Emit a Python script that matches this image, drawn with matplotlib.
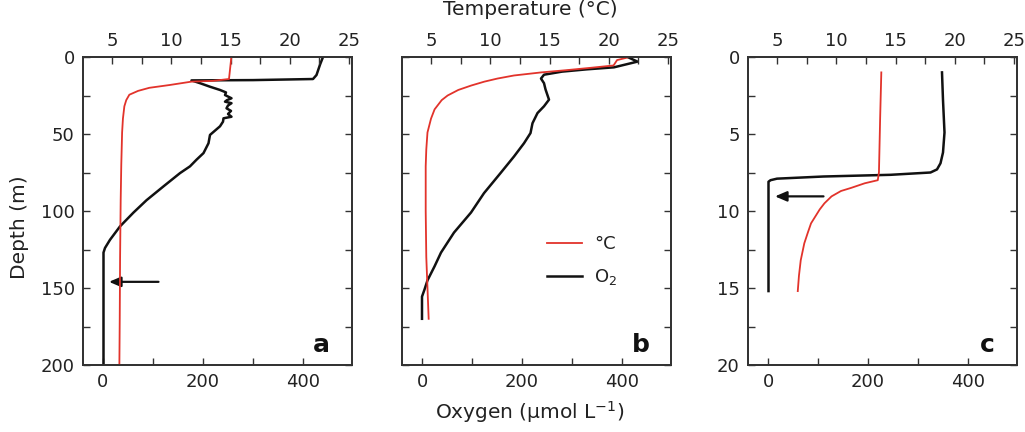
import matplotlib
matplotlib.use("Agg")
import matplotlib.pyplot as plt
from matplotlib.ticker import MultipleLocator

plt.rcParams['font.family'] = ['DejaVu Sans']

# ---------------- data ----------------
# Panel a
a_temp_depth = [0, 14.3, 15.5, 16, 18.2, 20, 22, 24.5, 28, 32, 40, 49, 70, 93, 130, 170, 200]
a_temp_val   = [15.07, 14.87, 13.5, 11.7, 9.85, 8.15, 7.2, 6.46, 6.2, 6.04, 5.92, 5.85, 5.78, 5.73, 5.68, 5.65, 5.62]
a_o2_depth = [0, 5, 11.7, 14.3, 15, 15.2, 17, 19.3, 21.4, 23, 24.7, 26.8, 28, 29, 30, 31.5, 33.3, 35, 37, 38.8, 39.8,
              42, 45, 50.6, 56, 62.4, 66.7, 71, 75.4, 84, 93, 101, 110, 118.7, 124, 127, 150, 200]
a_o2_val   = [440, 434, 427, 420, 300, 177, 194, 214, 234, 246, 244, 257, 248, 244, 257, 250, 247, 256, 250, 257, 241,
              240, 234, 214, 211, 201, 187, 174, 154, 121, 87, 61, 34, 14, 4, 1, 1, 1]
a_arrow_depth = 146
a_arrow_from = 111
a_arrow_to = 12

# Panel b
b_temp_depth = [0.3, 2, 5.5, 7, 8.5, 10, 12, 14, 16, 18.5, 21.4, 25, 28, 34, 40, 49, 60, 71, 100, 130, 150, 170]
b_temp_val   = [21.6, 20.7, 20.4, 18.5, 16.5, 14.3, 12.0, 10.6, 9.5, 8.4, 7.3, 6.4, 5.9, 5.3, 5.0, 4.7, 4.6, 4.55, 4.55, 4.6, 4.7, 4.8]
b_o2_depth = [0, 3, 6.7, 8, 9.5, 11.5, 14, 17, 21, 27.7, 32, 36.4, 43, 49.4, 56, 64.6, 75.4, 88.4, 101, 114, 127, 136,
              145, 151, 155.6, 170]
b_o2_val   = [411, 431, 384, 330, 280, 244, 238, 244, 247, 254, 244, 231, 221, 217, 204, 184, 157, 124, 98, 64, 38, 25,
              11, 5, 0, 0]

# Panel c
c_temp_depth = [1, 4, 7.5, 8.0, 8.2, 8.5, 8.7, 9.05, 9.5, 9.9, 10.8, 11.4, 12.1, 13.2, 14.2, 15.2]
c_temp_val   = [13.8, 13.7, 13.6, 13.5, 12.4, 11.25, 10.4, 9.6, 9.0, 8.6, 7.87, 7.6, 7.3, 7.0, 6.85, 6.75]
c_o2_depth = [1, 2.8, 4.9, 6.2, 6.9, 7.3, 7.5, 7.65, 7.76, 7.9, 8.0, 8.1, 15.2]
c_o2_val   = [348, 350, 353, 350, 345, 338, 325, 245, 111, 18, 5, 1, 1]
c_arrow_depth = 9.05
c_arrow_from = 111
c_arrow_to = 14

RED = '#e2332b'
BLK = '#111111'
SPINE = '#333333'

fig = plt.figure(figsize=(10.25, 4.32), dpi=100)

W = 1025.0
H = 432.0
bottom = 1 - 365 / H
height = (365 - 57) / H
lefts = [83 / W, 402 / W, 748 / W]
width = 269 / W

panels = [
    (a_temp_depth, a_temp_val, a_o2_depth, a_o2_val, 200, 50, 25, 'a', (a_arrow_depth, a_arrow_from, a_arrow_to), True),
    (b_temp_depth, b_temp_val, b_o2_depth, b_o2_val, 200, 50, 25, 'b', None, False),
    (c_temp_depth, c_temp_val, c_o2_depth, c_o2_val, 20, 5, 2.5, 'c', (c_arrow_depth, c_arrow_from, c_arrow_to), True),
]

axes = []
for i, (td, tv, od, ov, ymax, ymaj, ymin, letter, arrow, ylabels) in enumerate(panels):
    ax = fig.add_axes([lefts[i], bottom, width, height])
    axt = ax.twiny()
    lo, = ax.plot(ov, od, color=BLK, lw=1.8, zorder=3)
    lt, = axt.plot(tv, td, color=RED, lw=1.3, zorder=2)
    ax.set_xlim(-40, 498)
    axt.set_xlim(2.55, 25.25)
    ax.set_ylim(ymax, 0)
    ax.xaxis.set_major_locator(MultipleLocator(200))
    ax.xaxis.set_minor_locator(MultipleLocator(100))
    axt.xaxis.set_major_locator(MultipleLocator(5))
    axt.xaxis.set_minor_locator(MultipleLocator(2.5))
    ax.yaxis.set_major_locator(MultipleLocator(ymaj))
    ax.yaxis.set_minor_locator(MultipleLocator(ymin))
    ax.tick_params(axis='both', which='both', direction='in', right=True, labelsize=13,
                   colors=SPINE, labelcolor='#222222', width=1.0)
    ax.tick_params(axis='both', which='major', length=5, pad=6)
    ax.tick_params(axis='both', which='minor', length=5)
    axt.tick_params(axis='x', which='both', direction='in', labelsize=13, length=5,
                    colors=SPINE, labelcolor='#222222', width=1.0, pad=5)
    if not ylabels:
        ax.tick_params(axis='y', labelleft=False)
    for a_ in (ax, axt):
        for s in a_.spines.values():
            s.set_color(SPINE)
            s.set_linewidth(1.3)
    ax.text(0.888, 0.042, letter, transform=ax.transAxes, fontsize=18, fontweight='bold',
            ha='center', va='baseline', color='#111111')
    if arrow is not None:
        d, x0, x1 = arrow
        ax.annotate('', xy=(x1, d), xytext=(x0, d),
                    arrowprops=dict(arrowstyle='-|>,head_length=0.7,head_width=0.3', color=BLK, lw=1.6,
                                    shrinkA=0, shrinkB=0), zorder=5)
    if letter == 'b':
        ax.legend([lt, lo], ['°C', 'O$_2$'], loc='upper left', bbox_to_anchor=(0.48, 0.475),
                  frameon=False, fontsize=13, handlelength=1.9, handletextpad=0.7, labelspacing=0.8,
                  labelcolor='#222222')
    axes.append(ax)

fig.text(20 / W, 1 - 227 / H, 'Depth (m)', rotation=90, ha='center', va='center', fontsize=14.5, color='#222222')
fig.text(530 / W, 1 - 15 / H, 'Temperature (°C)', ha='center', va='baseline', fontsize=14.5, color='#222222')
fig.text(530 / W, 1 - 412 / H, 'Oxygen (µmol L$^{-1}$)', ha='center', va='center', fontsize=14.5, color='#222222')

fig.savefig('out.png', dpi=100)
